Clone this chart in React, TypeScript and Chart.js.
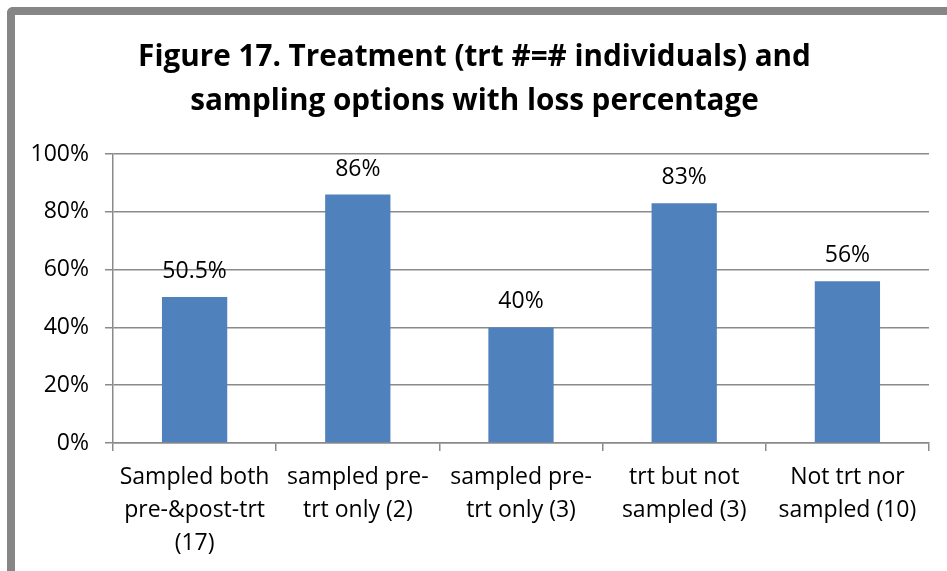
import React, { useEffect, useRef } from "react";
import { Chart, registerables } from "chart.js";

Chart.register(...registerables);

const categories: string[][] = [
  ["Sampled both", "pre-&post-trt", "(17)"],
  ["sampled pre-", "trt only (2)"],
  ["sampled pre-", "trt only (3)"],
  ["trt but not", "sampled (3)"],
  ["Not trt nor", "sampled (10)"],
];
const lossValues: number[] = [50.5, 86, 40, 83, 56];
const valueLabels: string[] = ["50.5%", "86%", "40%", "83%", "56%"];
const yTicks: number[] = [0, 20, 40, 60, 80, 100];
const titleLines: string[] = [
  "Figure 17. Treatment (trt #=# individuals) and",
  "sampling options with loss percentage",
];

const FONT = "'Open Sans', 'Noto Sans', sans-serif";
const GRID = "#8a8a8a";

const valueLabelPlugin = {
  id: "valueLabels",
  afterDatasetsDraw(chart: any) {
    const ctx = chart.ctx;
    const meta = chart.getDatasetMeta(0);
    ctx.save();
    ctx.font = `23px ${FONT}`;
    ctx.fillStyle = "#000";
    ctx.textAlign = "center";
    ctx.textBaseline = "alphabetic";
    meta.data.forEach((bar: any, i: number) => {
      ctx.fillText(valueLabels[i], bar.x, bar.y - 19);
    });
    ctx.restore();
  },
};

export default function App() {
  const ref = useRef<HTMLCanvasElement | null>(null);
  useEffect(() => {
    if (!ref.current) return;
    const chart = new Chart(ref.current, {
      type: "bar",
      data: {
        labels: categories,
        datasets: [
          {
            data: lossValues,
            backgroundColor: "#4F81BD",
            borderWidth: 0,
            categoryPercentage: 1,
            barPercentage: 0.4,
          },
        ],
      },
      options: {
        animation: false,
        responsive: false,
        maintainAspectRatio: false,
        layout: { padding: { top: 35, left: 20, right: 18, bottom: 0 } },
        plugins: {
          legend: { display: false },
          tooltip: { enabled: false },
          title: {
            display: true,
            text: titleLines,
            color: "#000",
            font: { family: FONT, size: 29.7, weight: "bold", lineHeight: 1.5 },
            padding: { top: 0, bottom: 30 },
          },
        },
        scales: {
          x: {
            grid: {
              display: true,
              drawOnChartArea: false,
              drawTicks: true,
              tickLength: 8,
              color: GRID,
              lineWidth: 1.5,
              offset: true,
            },
            border: { display: true, color: GRID, width: 1.5 },
            ticks: {
              color: "#000",
              font: { family: FONT, size: 23, lineHeight: 1.43 },
              padding: 10,
              maxRotation: 0,
              autoSkip: false,
            },
            afterFit: (s: any) => {
              s.height = 128;
            },
          },
          y: {
            min: 0,
            max: 100,
            afterBuildTicks: (s: any) => {
              s.ticks = yTicks.map((v) => ({ value: v }));
            },
            grid: {
              color: GRID,
              lineWidth: 1.5,
              drawTicks: true,
              tickLength: 8,
            },
            border: { display: true, color: GRID, width: 1.5 },
            ticks: {
              color: "#000",
              font: { family: FONT, size: 23 },
              padding: 16,
              callback: (v: any) => `${v}%`,
            },
            afterFit: (s: any) => {
              s.width = 93;
            },
          },
        },
      },
      plugins: [valueLabelPlugin],
    });
    return () => chart.destroy();
  }, []);

  return (
    <div
      style={{
        position: "absolute",
        left: 0,
        top: 0,
        width: 947,
        height: 571,
        overflow: "hidden",
        background: "#fff",
      }}
    >
      <div
        style={{
          position: "absolute",
          left: 7,
          top: 7,
          width: 1000,
          height: 700,
          borderTop: "8px solid #868686",
          borderLeft: "8px solid #868686",
          borderTopLeftRadius: 6,
          boxSizing: "border-box",
        }}
      />
      <canvas
        ref={ref}
        width={947}
        height={571}
        style={{ position: "absolute", left: 0, top: 0, width: 947, height: 571 }}
      />
    </div>
  );
}
